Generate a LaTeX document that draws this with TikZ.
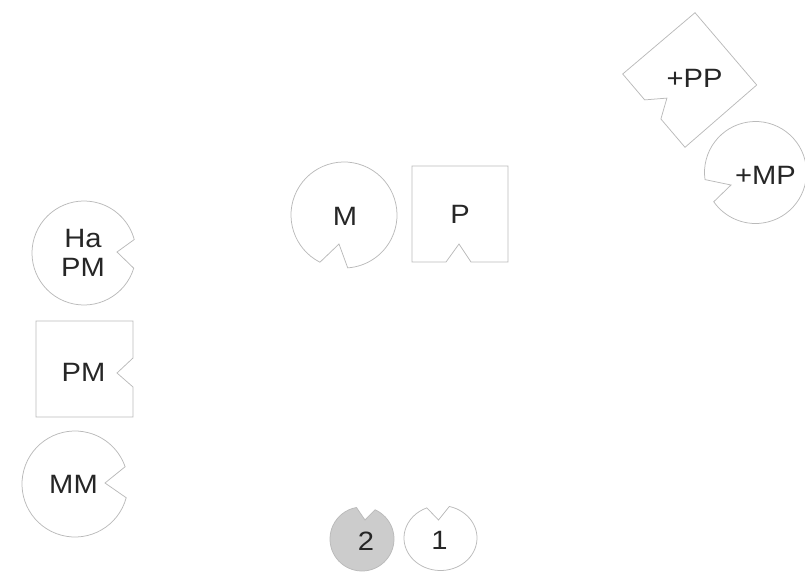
\documentclass[tikz,border=0pt]{standalone}
\usepackage{fontspec}
\setmainfont{Liberation Sans}[FakeStretch=1.1]
\newcommand\notchell[9]{%
  \draw[#1] (#8,#9) -- ({#2+#4*cos(#7)},{#3+#5*sin(#7)})
    arc[start angle=#7, end angle={#6+360}, x radius=#4, y radius=#5] -- cycle;}
\begin{document}
\begin{tikzpicture}[x=1pt,y=-1pt,
  outline/.style={draw=black!27, line width=0.75pt, line join=miter},
  grayfill/.style={outline, fill=black!20},
  lbl/.style={inner sep=0pt, text=black!85, font=\fontsize{26.5}{29}\selectfont, align=center}]
\useasboundingbox (0,0) rectangle (805,577);
% notched circles
\notchell{outline}{344}{215}{53}{53}{86}{117}{339}{244}
\notchell{outline}{84}{253}{52}{52}{-15}{17}{117}{252}
\notchell{outline}{75}{484}{53}{53}{-19}{15}{105}{483}
\notchell{outline}{755.5}{172.5}{51}{51}{145}{172}{731}{185}
\notchell{grayfill}{362}{539}{32}{32}{-100}{-66}{365}{520}
\notchell{outline}{440.5}{538}{36.5}{32.5}{-112}{-76}{438.5}{520}
% notched squares
\draw[outline] (412,166) -- (508,166) -- (508,262) -- (471,262) -- (459,244) -- (446,262) -- (412,262) -- cycle;
\draw[outline] (36,321) -- (133,321) -- (133,358) -- (117,373) -- (133,387) -- (133,417) -- (36,417) -- cycle;
\draw[outline] (695,12.7) -- (756.7,85) -- (685,147.3) -- (660.9,119) -- (666.9,98.1) -- (644.7,99.9) -- (622.7,74) -- cycle;
% labels
\node[lbl] (m) at (345,216) {M};
\node[lbl] (p) at (460,214.5) {P};
\node[lbl] (hapm) at (83,253) {Ha\\PM};
\node[lbl] (pm) at (83.5,372) {PM};
\node[lbl] (mm) at (73.5,484.5) {MM};
\node[lbl] (pp) at (694.5,78.5) {+PP};
\node[lbl] (mp) at (765.5,175.5) {+MP};
\node[lbl] (two) at (366,541) {2};
\node[lbl] (one) at (439.5,540) {1};
\end{tikzpicture}
\end{document}
